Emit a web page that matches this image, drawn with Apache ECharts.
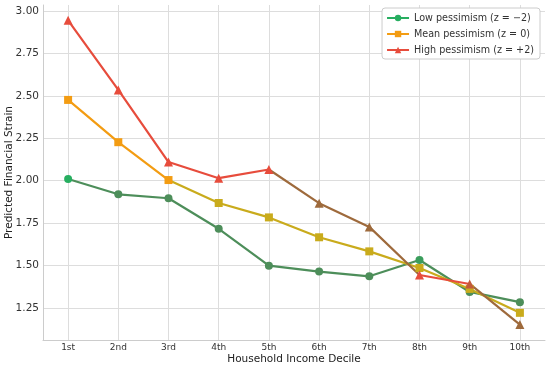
<!DOCTYPE html>
<html>
<head>
<meta charset="utf-8">
<script src="https://cdn.jsdelivr.net/npm/echarts@6/dist/echarts.min.js"></script>
<style>html,body{margin:0;padding:0;background:#fff}#c{width:550px;height:367px}</style>
</head>
<body>
<div id="c"></div>
<script>
var categories = ['1st','2nd','3rd','4th','5th','6th','7th','8th','9th','10th'];
var lowValues  = [2.01, 1.92, 1.897, 1.717, 1.50, 1.465, 1.437, 1.533, 1.345, 1.285];
var meanValues = [2.476, 2.227, 2.004, 1.869, 1.784, 1.667, 1.584, 1.486, 1.363, 1.222];
var highValues = [2.945, 2.535, 2.11, 2.015, 2.066, 1.868, 1.728, 1.445, 1.392, 1.153];
var yTicks = [1.25, 1.50, 1.75, 2.00, 2.25, 2.50, 2.75, 3.00];
var seriesNames = ['Low pessimism (z = \u22122)', 'Mean pessimism (z = 0)', 'High pessimism (z = +2)'];

// colours
var GREEN = '#27ae60', GREEN_M = '#4d8e5a', GREEN_B = '#3a9d5c';
var ORANGE = '#f39c12', OLIVE = '#c9ab1c';
var RED = '#e74c3c', BROWN = '#9e6a3c', RED_M = '#c25a3a';

// per-point marker colours and coloured segments [from, to, colour]
var lowMarkers  = [GREEN, GREEN_M, GREEN_M, GREEN_M, GREEN_M, GREEN_M, GREEN_M, GREEN_B, GREEN_M, GREEN_M];
var lowSegs     = [[0, 9, GREEN_M]];
var meanMarkers = [ORANGE, ORANGE, ORANGE, OLIVE, OLIVE, OLIVE, OLIVE, OLIVE, OLIVE, OLIVE];
var meanSegs    = [[0, 2, ORANGE], [2, 9, OLIVE]];
var highMarkers = [RED, RED, RED, RED, RED, BROWN, BROWN, RED, RED_M, BROWN];
var highSegs    = [[0, 4, RED], [4, 7, BROWN], [7, 8, RED], [8, 9, BROWN]];

var FONT = 'DejaVu Sans';
var chart = echarts.init(document.getElementById('c'));

var series = [];
function addGroup(name, values, markers, segs, baseColor, symbol, size) {
  segs.forEach(function (s) {
    series.push({
      type: 'line', silent: true, showSymbol: false, symbol: 'none', z: 3,
      data: values.map(function (v, i) { return (i >= s[0] && i <= s[1]) ? v : null; }),
      lineStyle: {width: 2.2, color: s[2]}, itemStyle: {color: s[2]},
      emphasis: {disabled: true}, connectNulls: false
    });
  });
  series.push({
    name: name, type: 'line', symbol: symbol, symbolSize: size, z: 4,
    data: values.map(function (v, i) { return {value: v, itemStyle: {color: markers[i]}}; }),
    lineStyle: {width: 2.2, color: baseColor, opacity: 0},
    itemStyle: {color: baseColor},
    emphasis: {disabled: true}
  });
}
addGroup(seriesNames[0], lowValues, lowMarkers, lowSegs, GREEN, 'circle', 8);
addGroup(seriesNames[1], meanValues, meanMarkers, meanSegs, ORANGE, 'rect', 8);
addGroup(seriesNames[2], highValues, highMarkers, highSegs, RED, 'triangle', 9);

var legendColors = [GREEN, ORANGE, RED];

chart.setOption({
  animation: false,
  backgroundColor: '#fff',
  grid: {left: 43, right: 5, top: 5, bottom: 27, containLabel: false, outerBoundsMode: 'none'},
  legend: {
    orient: 'vertical', right: 10, top: 8,
    data: seriesNames.map(function (n, i) {
      return {name: n,
        itemStyle: {color: legendColors[i]},
        lineStyle: {color: legendColors[i], opacity: 1, width: 2}};
    }),
    backgroundColor: '#fff', borderColor: '#cccccc', borderWidth: 1, borderRadius: 3,
    padding: [5, 6, 4, 4], itemGap: 6, itemWidth: 22, itemHeight: 8,
    textStyle: {fontFamily: FONT, fontSize: 9.6, color: '#333'}
  },
  xAxis: {
    type: 'category', data: categories, boundaryGap: true,
    name: 'Household Income Decile', nameLocation: 'middle', nameGap: 14, nameMoveOverlap: false,
    nameTextStyle: {fontFamily: FONT, fontSize: 10.5, color: '#222'},
    axisLine: {lineStyle: {color: '#cccccc'}},
    axisTick: {show: false, alignWithLabel: true},
    axisLabel: {fontFamily: FONT, fontSize: 9, color: '#333', margin: 3},
    splitLine: {show: true, alignWithLabel: true, lineStyle: {color: '#dddddd', width: 1}}
  },
  yAxis: {
    type: 'value', min: 1.062, max: 3.035,
    name: 'Predicted Financial Strain', nameLocation: 'middle', nameGap: 28, nameMoveOverlap: false,
    nameTextStyle: {fontFamily: FONT, fontSize: 10.5, color: '#222'},
    axisLine: {show: true, lineStyle: {color: '#cccccc'}},
    axisTick: {show: false, customValues: yTicks},
    axisLabel: {fontFamily: FONT, fontSize: 10.5, color: '#333', margin: 4,
      customValues: yTicks, formatter: function (v) { return v.toFixed(2); }},
    splitLine: {show: true, lineStyle: {color: '#dddddd', width: 1}}
  },
  series: series
});
</script>
</body>
</html>
